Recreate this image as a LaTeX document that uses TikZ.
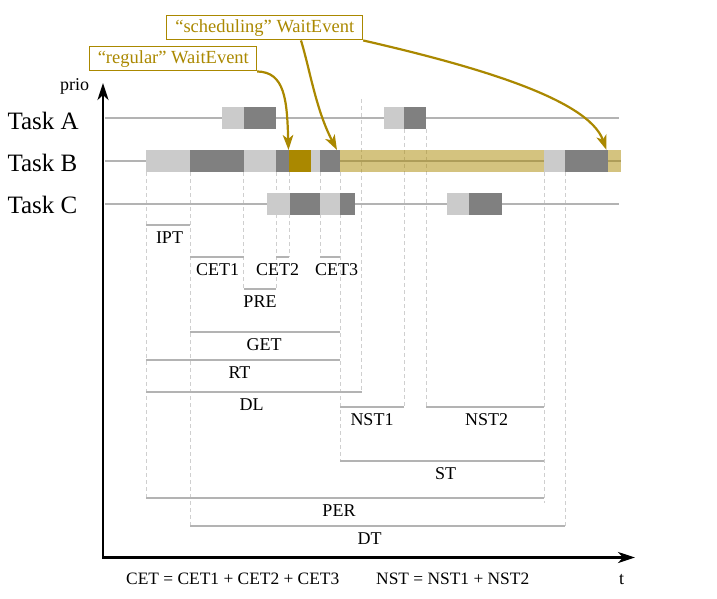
\documentclass[tikz,border=0pt]{standalone}
\usepackage{fontspec}
\setmainfont{Liberation Serif}
\usetikzlibrary{arrows.meta}
\definecolor{gold}{HTML}{AA8800}
\definecolor{lgray}{HTML}{CBCBCB}
\definecolor{dgray}{HTML}{808080}
\definecolor{lineg}{HTML}{B3B3B3}
\definecolor{dashg}{HTML}{CFCFCF}
\begin{document}
\begin{tikzpicture}[x=1pt,y=-1pt,
  tline/.style={lineg, line width=2.6pt},
  guide/.style={dashg, line width=0.8pt, dash pattern=on 4pt off 3pt},
  mbar/.style={lineg, line width=1.8pt},
  mlab/.style={font=\fontsize{18}{20}\selectfont, anchor=base, inner sep=0pt},
  eqlab/.style={font=\fontsize{17.4}{20}\selectfont, anchor=base west, inner sep=0pt},
  tlab/.style={font=\fontsize{25}{28}\selectfont, anchor=base west, inner sep=0pt},
  wbox/.style={draw=gold, line width=1pt, text=gold, font=\fontsize{18.5}{20}\selectfont, inner sep=0pt, minimum height=24.3pt},
  warrow/.style={gold, line width=2.2pt, -{Stealth[length=15pt,width=10.5pt,inset=4pt]}},
  axisline/.style={black, line width=2.6pt, line join=miter, {Stealth[length=17pt,width=11pt,inset=5pt]}-{Stealth[length=17pt,width=11pt,inset=5pt]}}
]
\useasboundingbox (0,0) rectangle (717,599);

% guides
\foreach \x/\a/\b in {146/172/499, 190/172/526, 243.5/172/289, 276/172/289, 289/172/257, 320/172/257, 340/172/461, 361.5/99/392, 404/129/407, 426/129/407, 544/172/503, 565/172/526}
  \draw[guide] (\x,\a) -- (\x,\b);

% task lines
\draw[tline] (105,118) -- (619,118);
\draw[tline] (105,161) -- (621,161);
\draw[tline] (105,204) -- (619,204);

% Task A blocks
\fill[lgray] (222,107) rectangle (243.5,129);
\fill[dgray] (243.5,107) rectangle (276,129);
\fill[lgray] (383.5,107) rectangle (404,129);
\fill[dgray] (404,107) rectangle (426,129);

% Task B blocks
\fill[lgray] (146,150) rectangle (190,172);
\fill[dgray] (190,150) rectangle (243.5,172);
\fill[lgray] (243.5,150) rectangle (276,172);
\fill[dgray] (276,150) rectangle (289,172);
\fill[gold] (289,150) rectangle (311,172);
\fill[lgray] (311,150) rectangle (320,172);
\fill[dgray] (320,150) rectangle (340,172);
\fill[gold, opacity=0.5] (340,150) rectangle (544,172);
\fill[lgray] (544,150) rectangle (565,172);
\fill[dgray] (565,150) rectangle (607.7,172);
\fill[gold, opacity=0.5] (607.7,150) rectangle (621,172);

% Task C blocks
\fill[lgray] (266.7,193) rectangle (290,215);
\fill[dgray] (290,193) rectangle (320,215);
\fill[lgray] (320,193) rectangle (340,215);
\fill[dgray] (340,193) rectangle (355,215);
\fill[lgray] (447.3,193) rectangle (469,215);
\fill[dgray] (469,193) rectangle (501.7,215);

% measurement bars
\draw[mbar] (146,225) -- (190,225);
\draw[mbar] (190,257) -- (243.5,257);
\draw[mbar] (276,257) -- (289,257);
\draw[mbar] (320,257) -- (340,257);
\draw[mbar] (243.5,289) -- (276,289);
\draw[mbar] (190,332) -- (340,332);
\draw[mbar] (146,360) -- (340,360);
\draw[mbar] (146,392) -- (361.5,392);
\draw[mbar] (340,407) -- (404,407);
\draw[mbar] (426,407) -- (544,407);
\draw[mbar] (340,461) -- (544,461);
\draw[mbar] (146,498) -- (544,498);
\draw[mbar] (190,526) -- (565,526);

% measurement labels
\node[mlab] (lIPT) at (169.5,243) {IPT};
\node[mlab] (lCET1) at (217.7,275) {CET1};
\node[mlab] (lCET2) at (277.7,275) {CET2};
\node[mlab] (lCET3) at (336.7,275) {CET3};
\node[mlab] (lPRE) at (260,307) {PRE};
\node[mlab] (lGET) at (264,350) {GET};
\node[mlab] (lRT) at (239.5,378) {RT};
\node[mlab] (lDL) at (251.7,410) {DL};
\node[mlab] (lNST1) at (372,425) {NST1};
\node[mlab] (lNST2) at (486.7,425) {NST2};
\node[mlab] (lST) at (445.5,479) {ST};
\node[mlab] (lPER) at (339,516) {PER};
\node[mlab] (lDT) at (369.5,544) {DT};

% axes
\coordinate (ytip) at (103,83);
\coordinate (origin) at (103,557.5);
\coordinate (xtip) at (635,557.5);
\draw[axisline] (ytip) -- (origin) -- (xtip);

% axis and task labels
\node[mlab, anchor=base west] (prio) at (60,91) {prio};
\node[mlab] (tlabel) at (621.5,584) {t};
\node[tlab] (taskA) at (7.3,129.3) {Task A};
\node[tlab] (taskB) at (7.3,171.7) {Task B};
\node[tlab] (taskC) at (7.3,213) {Task C};

% equations
\node[eqlab] (eqcet) at (126,584) {CET = CET1 + CET2 + CET3};
\node[eqlab] (eqnst) at (376,584) {NST = NST1 + NST2};

% wait event boxes
\node[wbox, minimum width=166.7pt] (reg) at (173.3,58.8) {“regular” WaitEvent};
\node[wbox, inner xsep=4pt, minimum width=196pt] (sched) at (264.7,27.8) {“scheduling” WaitEvent\hspace{7pt}};

\coordinate (wa) at (288.5,150);
\coordinate (wb) at (337,150);
\coordinate (wc) at (606.5,150);

\draw[warrow] (reg.south east) .. controls (285,72) and (287,100) .. (wa);
\draw[warrow] ([xshift=36.3pt]sched.south) .. controls (310,70) and (316,110) .. (wb);
\draw[warrow] (sched.south east) .. controls (470,65) and (588,98) .. (wc);
\end{tikzpicture}
\end{document}
